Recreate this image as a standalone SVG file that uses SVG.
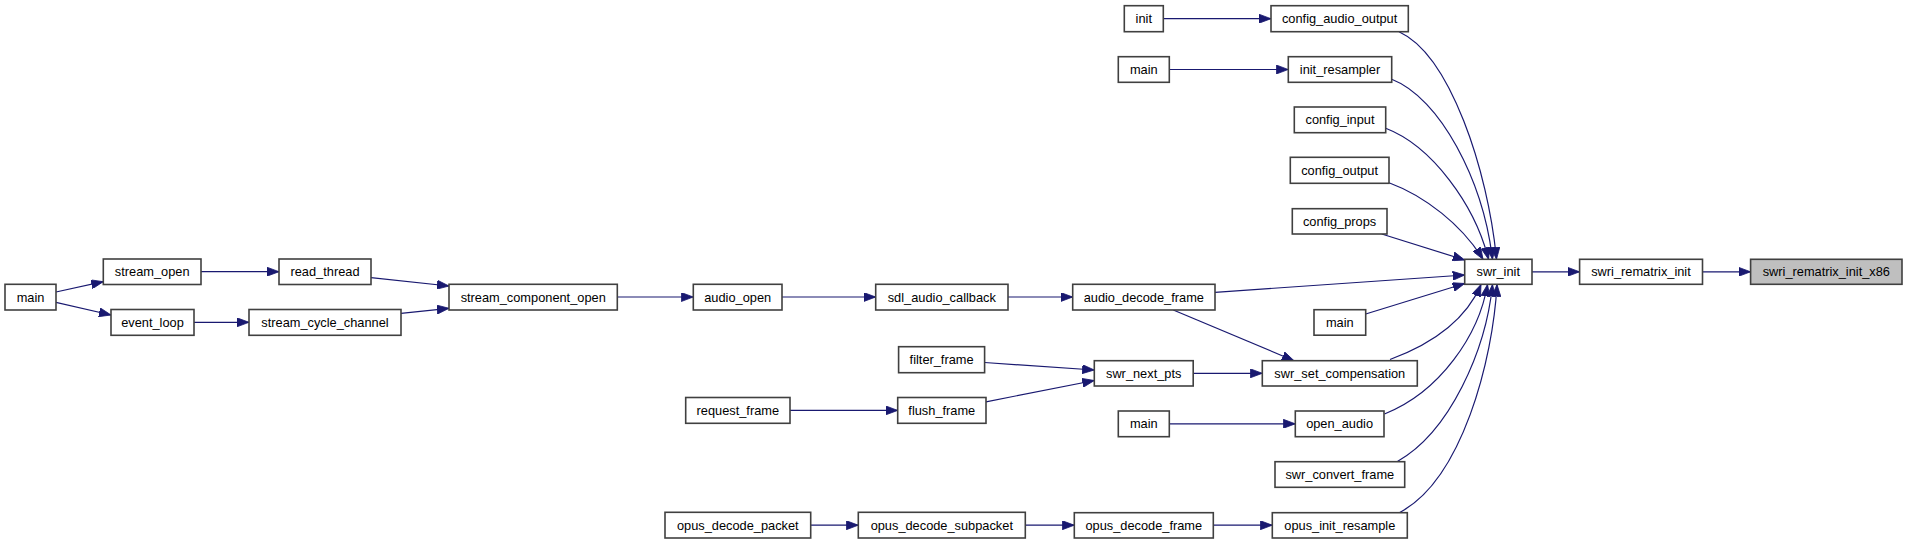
<svg xmlns="http://www.w3.org/2000/svg" width="1907" height="544" viewBox="0 0 1907 544">
<style>
.node rect{fill:#ffffff;stroke:#404040;stroke-width:1.6}
.node.hl rect{fill:#bfbfbf}
.node text{font-family:"Liberation Sans",Arial,sans-serif;font-size:12.8px;fill:#000;text-anchor:middle}
.edges path{fill:none;stroke:#191970;stroke-width:1.2;marker-end:url(#arr)}
</style>
<defs>
<marker id="arr" viewBox="0 0 12 9" refX="12" refY="4.5" markerWidth="12" markerHeight="9" markerUnits="userSpaceOnUse" orient="auto">
<path d="M0,0 L12,4.5 L0,9 Z" fill="#191970" stroke="#191970" stroke-width="0.8"/>
</marker>
</defs>
<rect width="1907" height="544" fill="#ffffff"/>
<g class="edges">
<path d="M56,292 L103.3,281.7"/>
<path d="M56,302.3 L111,315"/>
<path d="M201,271.7 L279,271.7"/>
<path d="M194,322.3 L249,322.3"/>
<path d="M371,277.7 L449,286"/>
<path d="M401,313.3 L449,308.3"/>
<path d="M617.3,297 L693.3,297"/>
<path d="M782,297 L875.7,297"/>
<path d="M1008,297 L1072.7,297"/>
<path d="M1215,292.3 L1464.7,275"/>
<path d="M1173.3,310 L1294,360.7"/>
<path d="M1365.7,314 L1464.7,283.5"/>
<path d="M1381.7,234 L1464.7,260"/>
<path d="M1389,182.7 C1425,196 1462,225 1483,259.3"/>
<path d="M1385.7,128.3 C1432,146 1475,205 1488.5,259.3"/>
<path d="M1391.7,79.3 C1440,98 1483,180 1492.5,259.3"/>
<path d="M1399,31.7 C1450,55 1488,170 1496.5,259.3"/>
<path d="M1390,359.5 C1432,344 1466,320 1481,284.5"/>
<path d="M1384.5,414 C1440,392 1479,335 1487.5,284.5"/>
<path d="M1397,461.7 C1450,432 1486,350 1492.5,284.5"/>
<path d="M1399.3,512.7 C1462,480 1493,360 1497,284.5"/>
<path d="M984.6,362.5 L1094.3,370"/>
<path d="M986,401.8 L1094.3,380.5"/>
<path d="M1193.2,373.3 L1262.3,373.3"/>
<path d="M790,410.4 L897.7,410.4"/>
<path d="M1169.3,423.8 L1295.3,423.8"/>
<path d="M1163.3,18.7 L1271,18.7"/>
<path d="M1169.3,69.5 L1288.3,69.5"/>
<path d="M1532,271.8 L1579.6,271.8"/>
<path d="M1702.5,271.8 L1750.6,271.8"/>
<path d="M810.7,525.2 L858.3,525.2"/>
<path d="M1025.3,525.2 L1074.3,525.2"/>
<path d="M1213.3,525.2 L1272.3,525.2"/>
</g>
<g id="n_main_a" class="node"><rect x="5" y="284.3" width="51" height="25.7"/><text x="30.5" y="301.5">main</text></g>
<g id="n_stream_open" class="node"><rect x="103.3" y="259" width="97.7" height="25.5"/><text x="152.2" y="276.2">stream_open</text></g>
<g id="n_read_thread" class="node"><rect x="279" y="259" width="92" height="25.5"/><text x="325" y="276.2">read_thread</text></g>
<g id="n_event_loop" class="node"><rect x="111" y="309.5" width="83" height="25.8"/><text x="152.5" y="326.8">event_loop</text></g>
<g id="n_stream_cycle_channel" class="node"><rect x="249" y="309.5" width="152" height="25.8"/><text x="325" y="326.8">stream_cycle_channel</text></g>
<g id="n_stream_component_open" class="node"><rect x="449" y="284.3" width="168.3" height="25.7"/><text x="533.2" y="301.5">stream_component_open</text></g>
<g id="n_audio_open" class="node"><rect x="693.3" y="284.3" width="88.7" height="25.7"/><text x="737.7" y="301.5">audio_open</text></g>
<g id="n_sdl_audio_callback" class="node"><rect x="875.7" y="284.3" width="132.3" height="25.7"/><text x="941.8" y="301.5">sdl_audio_callback</text></g>
<g id="n_audio_decode_frame" class="node"><rect x="1072.7" y="284.3" width="142.3" height="25.7"/><text x="1143.8" y="301.5">audio_decode_frame</text></g>
<g id="n_swr_init" class="node"><rect x="1464.7" y="259.3" width="67.3" height="25"/><text x="1498.3" y="276.2">swr_init</text></g>
<g id="n_swri_rematrix_init" class="node"><rect x="1579.6" y="259.3" width="122.9" height="25"/><text x="1641" y="276.2">swri_rematrix_init</text></g>
<g id="n_swri_rematrix_init_x86" class="node hl"><rect x="1750.6" y="259.3" width="151.4" height="25"/><text x="1826.3" y="276.2">swri_rematrix_init_x86</text></g>
<g id="n_init" class="node"><rect x="1124.3" y="5.7" width="39" height="26"/><text x="1143.8" y="23.1">init</text></g>
<g id="n_config_audio_output" class="node"><rect x="1271" y="5.7" width="137.3" height="26"/><text x="1339.6" y="23.1">config_audio_output</text></g>
<g id="n_main_b" class="node"><rect x="1118.3" y="56.7" width="51" height="25.6"/><text x="1143.8" y="74">main</text></g>
<g id="n_init_resampler" class="node"><rect x="1288.3" y="56.7" width="103.4" height="25.6"/><text x="1340" y="74">init_resampler</text></g>
<g id="n_config_input" class="node"><rect x="1294.3" y="107" width="91.4" height="25.7"/><text x="1340" y="124.3">config_input</text></g>
<g id="n_config_output" class="node"><rect x="1290.3" y="157.3" width="98.7" height="26"/><text x="1339.6" y="174.8">config_output</text></g>
<g id="n_config_props" class="node"><rect x="1292.3" y="208.7" width="94.7" height="25.3"/><text x="1339.6" y="225.8">config_props</text></g>
<g id="n_main_c" class="node"><rect x="1314" y="309.7" width="51.7" height="25.5"/><text x="1339.8" y="326.9">main</text></g>
<g id="n_filter_frame" class="node"><rect x="898.6" y="346.7" width="86" height="26"/><text x="941.6" y="364.2">filter_frame</text></g>
<g id="n_swr_next_pts" class="node"><rect x="1094.3" y="360.7" width="98.9" height="25.3"/><text x="1143.7" y="377.8">swr_next_pts</text></g>
<g id="n_swr_set_compensation" class="node"><rect x="1262.3" y="360.7" width="155" height="25.3"/><text x="1339.8" y="377.8">swr_set_compensation</text></g>
<g id="n_request_frame" class="node"><rect x="685.7" y="397.5" width="104.3" height="25.8"/><text x="737.8" y="414.9">request_frame</text></g>
<g id="n_flush_frame" class="node"><rect x="897.7" y="397.5" width="88.3" height="25.8"/><text x="941.8" y="414.9">flush_frame</text></g>
<g id="n_main_d" class="node"><rect x="1118.3" y="411" width="51" height="25.7"/><text x="1143.8" y="428.3">main</text></g>
<g id="n_open_audio" class="node"><rect x="1295.3" y="411" width="88.7" height="25.7"/><text x="1339.6" y="428.3">open_audio</text></g>
<g id="n_swr_convert_frame" class="node"><rect x="1275" y="461.7" width="129.7" height="25.6"/><text x="1339.8" y="479">swr_convert_frame</text></g>
<g id="n_opus_decode_packet" class="node"><rect x="665" y="512.3" width="145.7" height="25.7"/><text x="737.8" y="529.6">opus_decode_packet</text></g>
<g id="n_opus_decode_subpacket" class="node"><rect x="858.3" y="512.3" width="167" height="25.7"/><text x="941.8" y="529.6">opus_decode_subpacket</text></g>
<g id="n_opus_decode_frame" class="node"><rect x="1074.3" y="512.7" width="139" height="25.3"/><text x="1143.8" y="529.8">opus_decode_frame</text></g>
<g id="n_opus_init_resample" class="node"><rect x="1272.3" y="512.7" width="135" height="25.3"/><text x="1339.8" y="529.8">opus_init_resample</text></g>
</svg>
